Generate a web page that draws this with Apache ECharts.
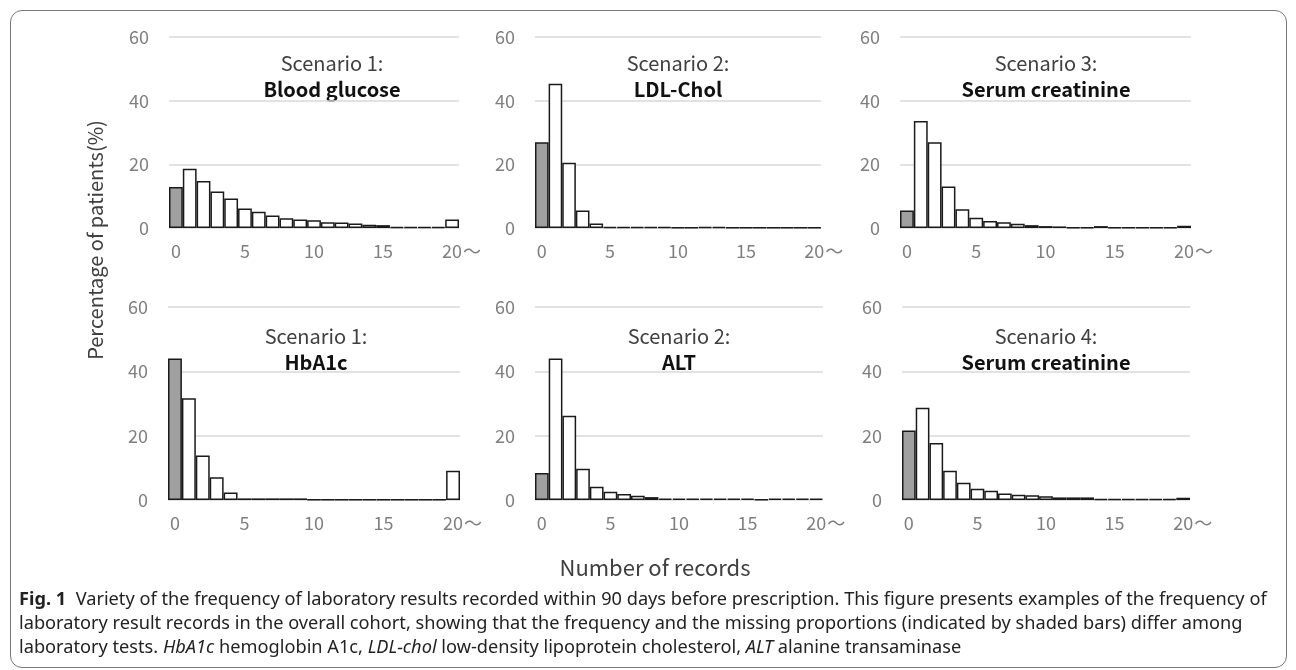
<!DOCTYPE html>
<html>
<head>
	<meta charset="utf-8">
	<title>Fig. 1</title>
	<script src="https://cdn.jsdelivr.net/npm/echarts@6/dist/echarts.min.js"></script>
	<style>
		body { margin: 0; background: #fff; }
		#frame { position: absolute; left: 10px; top: 10px; width: 1275px; height: 656px; border: 1px solid #777; border-radius: 12px; }
		#main { position: absolute; left: 0; top: 0; width: 1296px; height: 670px; }
		#caption { position: absolute; left: 19px; top: 586px; font-family: 'Noto Sans', sans-serif; font-size: 18.2px; line-height: 24px; color: #222; white-space: nowrap; }
		#caption b { font-weight: bold; }
	</style>
</head>
<body>
	<div id="frame"></div>
	<div id="main"></div>
	<div id="caption"><b>Fig. 1</b>&nbsp; Variety of the frequency of laboratory results recorded within 90 days before prescription. This figure presents examples of the frequency of<br>laboratory result records in the overall cohort, showing that the frequency and the missing proportions (indicated by shaded bars) differ among<br>laboratory tests. <i>HbA1c</i> hemoglobin A1c, <i>LDL-chol</i> low-density lipoprotein cholesterol, <i>ALT</i> alanine transaminase</div>
	<script type="text/javascript">
		// 记录次数 0..20（20 表示 20 次以上）
		var categories = ['0','1','2','3','4','5','6','7','8','9','10','11','12','13','14','15','16','17','18','19','20'];
		var tickLabels = ['0','5','10','15','20'];

		// 各检查项目的患者比例（%），第一根柱为缺失
		var bloodGlucose = [12.9, 18.6, 14.8, 11.5, 9.3, 6.1, 5.1, 3.9, 3.1, 2.7, 2.4, 1.8, 1.7, 1.4, 1.0, 0.9, 0.3, 0.3, 0.3, 0.3, 2.7];
		var ldlChol = [26.9, 45.3, 20.5, 5.5, 1.4, 0.3, 0.3, 0.3, 0.3, 0.3, 0.1, 0.1, 0.3, 0.3, 0.1, 0.1, 0.1, 0.1, 0.1, 0.1, 0.1];
		var creatinine3 = [5.5, 33.6, 26.9, 13.0, 5.9, 3.2, 2.2, 1.8, 1.3, 0.9, 0.6, 0.5, 0.2, 0.2, 0.6, 0.2, 0.2, 0.2, 0.2, 0.2, 0.7];
		var hba1c = [44.0, 31.6, 13.8, 7.1, 2.3, 0.5, 0.5, 0.5, 0.5, 0.5, 0.1, 0.1, 0.1, 0.1, 0.1, 0.1, 0.1, 0.1, 0.1, 0.1, 9.1];
		var alt = [8.4, 44.0, 26.2, 9.7, 4.1, 2.6, 1.9, 1.3, 0.9, 0.4, 0.4, 0.4, 0.4, 0.4, 0.4, 0.4, 0.1, 0.4, 0.4, 0.4, 0.4];
		var creatinine4 = [21.6, 28.7, 17.7, 9.1, 5.4, 3.5, 2.9, 2.0, 1.6, 1.5, 1.2, 0.8, 0.8, 0.8, 0.3, 0.3, 0.3, 0.3, 0.3, 0.3, 0.7];

		var scenarios = ['Scenario 1:', 'Scenario 2:', 'Scenario 3:', 'Scenario 1:', 'Scenario 2:', 'Scenario 4:'];
		var tests = ['Blood glucose', 'LDL-Chol', 'Serum creatinine', 'HbA1c', 'ALT', 'Serum creatinine'];
		var panelData = [bloodGlucose, ldlChol, creatinine3, hba1c, alt, creatinine4];

		// 面板位置
		var grids = [
			{left: 169, top: 37, width: 290, height: 191},
			{left: 535, top: 37, width: 286, height: 191},
			{left: 900, top: 37, width: 291, height: 191},
			{left: 168, top: 307, width: 292, height: 193},
			{left: 535, top: 307, width: 288, height: 193},
			{left: 902, top: 307, width: 288, height: 193}
		];
		var titleX = [332, 678, 1046, 316, 679, 1046];
		var titleY = [63, 336];

		var font = "'Noto Sans CJK JP', 'Noto Sans', sans-serif";
		var myChart = echarts.init(document.getElementById('main'));

		var xAxes = [], yAxes = [], series = [], graphics = [];
		grids.forEach(function(g, i){
			xAxes.push({
				type: 'category', gridIndex: i, data: categories,
				axisLine: {show: false}, axisTick: {show: false},
				axisLabel: {
					interval: 0, margin: 14, color: '#7f7f7f', fontSize: 18, fontFamily: font,
					formatter: function(v){
						if (tickLabels.indexOf(v) < 0) return '';
						return v === '20' ? '{p|}20{t|～}' : v;
					},
					rich: {
						p: {width: 20},
						t: {width: 20, color: '#7f7f7f', fontSize: 18, fontFamily: font}
					}
				}
			});
			yAxes.push({
				type: 'value', gridIndex: i, min: 0, max: 60, interval: 20,
				axisLine: {show: false}, axisTick: {show: false},
				axisLabel: {margin: 20, color: '#7f7f7f', fontSize: 18, fontFamily: font},
				splitLine: {lineStyle: {color: '#d9d9d9', width: 1.5}}
			});
			series.push({
				type: 'bar', xAxisIndex: i, yAxisIndex: i, barCategoryGap: '0%',
				itemStyle: {color: '#fff', borderColor: '#1a1a1a', borderWidth: 1.5},
				data: panelData[i].map(function(v, k){
					return k === 0 ? {value: v, itemStyle: {color: '#a0a0a0'}} : v;
				})
			});
			var ty = titleY[i < 3 ? 0 : 1];
			graphics.push({
				type: 'text', x: titleX[i], y: ty,
				style: {text: scenarios[i], font: '20px ' + font, fill: '#404040', textAlign: 'center', textVerticalAlign: 'middle'}
			});
			graphics.push({
				type: 'text', x: titleX[i], y: ty + 26,
				style: {text: tests[i], font: 'bold 20px ' + font, fill: '#111', textAlign: 'center', textVerticalAlign: 'middle'}
			});
		});

		graphics.push({
			type: 'text', x: 95, y: 240, rotation: Math.PI / 2,
			style: {text: 'Percentage of patients(%)', font: '20px ' + font, fill: '#404040', textAlign: 'center', textVerticalAlign: 'middle'}
		});
		graphics.push({
			type: 'text', x: 655, y: 568,
			style: {text: 'Number of records', font: '22px ' + font, fill: '#404040', textAlign: 'center', textVerticalAlign: 'middle'}
		});

		myChart.setOption({
			animation: false,
			grid: grids,
			xAxis: xAxes,
			yAxis: yAxes,
			series: series,
			graphic: graphics
		});
	</script>
</body>
</html>
